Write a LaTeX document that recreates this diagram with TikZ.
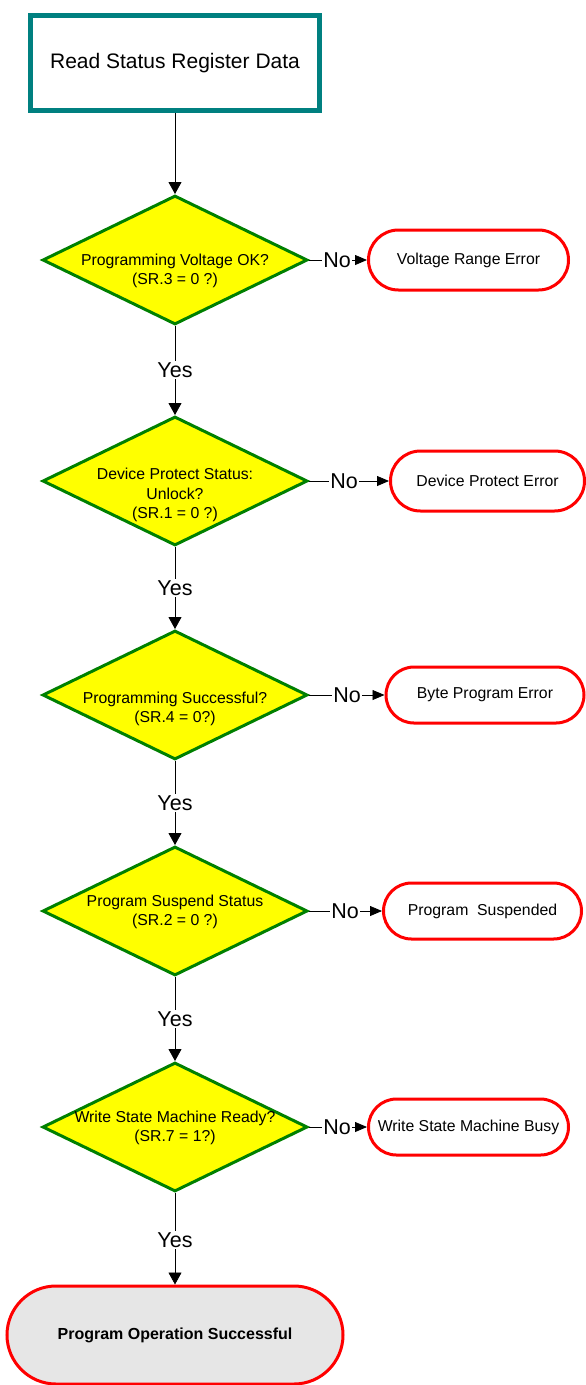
\documentclass[tikz,border=0pt]{standalone}
\usepackage{fontspec}
\setmainfont{Liberation Sans}
\usetikzlibrary{shapes.geometric,shapes.misc,arrows.meta}

\definecolor{tealline}{RGB}{0,128,128}
\definecolor{decline}{RGB}{0,128,0}
\definecolor{decfill}{RGB}{255,255,0}
\definecolor{errline}{RGB}{255,0,0}
\definecolor{endfill}{RGB}{230,230,230}

\tikzset{
  startbox/.style={draw=tealline, line width=5pt, fill=white, rectangle,
    minimum width=289pt, minimum height=95pt, inner sep=0pt,
    font=\fontsize{21pt}{24pt}\selectfont},
  decision/.style={draw=decline, line width=3pt, fill=decfill, diamond,
    minimum width=265pt, minimum height=129pt, inner sep=0pt},
  dectext/.style={align=center, inner sep=0pt,
    font=\fontsize{15.8pt}{19.5pt}\selectfont},
  errbox/.style={draw=errline, line width=3pt, fill=white, rounded rectangle,
    inner sep=0pt, minimum height=60pt, font=\fontsize{15.8pt}{18pt}\selectfont},
  endbox/.style={draw=errline, line width=3pt, fill=endfill, rounded rectangle,
    inner sep=0pt, minimum width=336pt, minimum height=98pt,
    font=\bfseries\fontsize{16pt}{18pt}\selectfont},
  answer/.style={inner sep=1.5pt, font=\fontsize{21.5pt}{24pt}\selectfont},
  link/.style={line width=0.8pt, draw=black},
  flow/.style={link, -{Triangle[length=12pt,width=13pt]}},
  sideflow/.style={link, -{Triangle[length=12pt,width=10pt]}},
}

\begin{document}
\begin{tikzpicture}[x=1pt,y=-1pt]
  \useasboundingbox (0,0) rectangle (586,1385);

  % start
  \node[startbox] (start) at (175,63) {Read Status Register Data};

  % decisions
  \node[decision] (d1) at (175,260) {};
  \node[dectext] (t1) at (175,271) {Programming Voltage OK?\\(SR.3 = 0 ?)};
  \node[decision] (d2) at (175,481) {};
  \node[dectext] (t2) at (175,495) {Device Protect Status:\\Unlock?\\(SR.1 = 0 ?)};
  \node[decision] (d3) at (175,695) {};
  \node[dectext] (t3) at (175,709) {Programming Successful?\\(SR.4 = 0?)};
  \node[decision] (d4) at (175,911) {};
  \node[dectext] (t4) at (175,912) {Program Suspend Status\\(SR.2 = 0 ?)};
  \node[decision] (d5) at (175,1127) {};
  \node[dectext] (t5) at (175,1128) {Write State Machine Ready?\\(SR.7 = 1?)};

  % error exits
  \node[errbox, minimum width=200pt] (e1) at (468.5,260) {Voltage Range Error};
  \node[errbox, minimum width=194pt] (e2) at (487.5,481) {Device Protect Error};
  \node[errbox, minimum width=198pt, minimum height=56pt] (e3) at (485,695) {Byte Program Error};
  \node[errbox, minimum width=198pt, minimum height=56pt] (e4) at (482.5,911) {Program\ \ Suspended};
  \node[errbox, minimum width=200pt, minimum height=56pt] (e5) at (468.5,1127) {Write State Machine Busy};

  % final state
  \node[endbox] (done) at (175,1335) {Program Operation Successful};

  % "No" labels
  \node[answer] (n1) at (337,260) {No};
  \node[answer] (n2) at (344,481) {No};
  \node[answer] (n3) at (347,695) {No};
  \node[answer] (n4) at (345,911) {No};
  \node[answer] (n5) at (337,1127) {No};

  % "Yes" labels
  \node[answer] (y1) at (175,370) {Yes};
  \node[answer] (y2) at (175,588) {Yes};
  \node[answer] (y3) at (175,803) {Yes};
  \node[answer] (y4) at (175,1019) {Yes};
  \node[answer] (y5) at (175,1240) {Yes};

  % main flow
  \draw[flow] (start.south) -- (d1.north);
  \foreach \d/\y/\n in {d1/y1/d2, d2/y2/d3, d3/y3/d4, d4/y4/d5} {
    \draw[link] (\d.south) -- (\y.north);
    \draw[flow] (\y.south) -- (\n.north);
  }
  \draw[link] (d5.south) -- (y5.north);
  \draw[flow] (y5.south) -- (done.north);

  % side exits
  \foreach \i in {1,...,5} {
    \draw[link] (d\i.east) -- (n\i.west);
    \draw[sideflow] (n\i.east) -- (e\i.west);
  }
\end{tikzpicture}
\end{document}
